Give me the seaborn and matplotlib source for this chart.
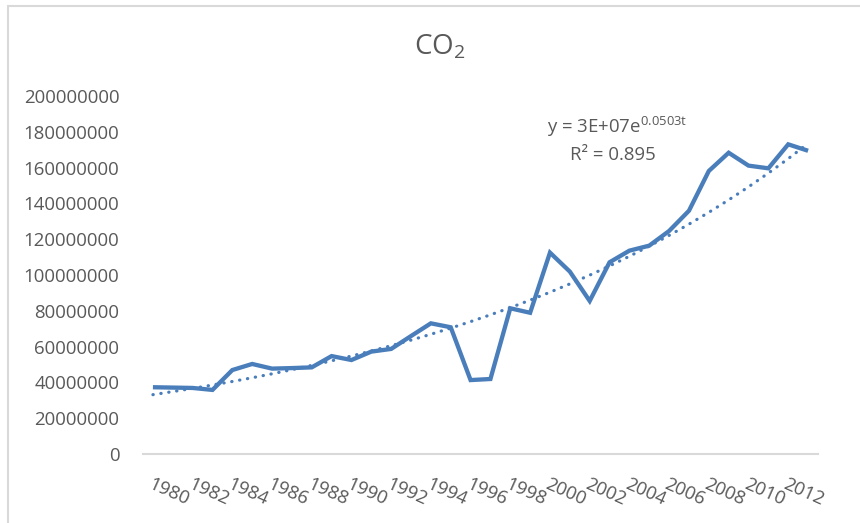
import numpy as np
import pandas as pd
import matplotlib
matplotlib.use("Agg")
import matplotlib.pyplot as plt
from matplotlib.patches import Rectangle
import seaborn as sns

# Annual CO2 emissions, 1980-2013
years = list(range(1980, 2014))
co2 = [37.3e6, 37.1e6, 36.9e6, 35.8e6, 46.9e6, 50.3e6, 47.7e6, 48.0e6, 48.4e6,
       54.7e6, 52.5e6, 57.2e6, 58.7e6, 65.9e6, 73.0e6, 70.8e6, 41.3e6, 41.9e6,
       81.4e6, 78.9e6, 112.5e6, 101.9e6, 85.5e6, 107.1e6, 113.6e6, 116.4e6,
       124.6e6, 135.9e6, 158.1e6, 168.3e6, 161.1e6, 159.6e6, 173.0e6, 169.4e6]
tick_years = [str(y) for y in range(1980, 2013, 2)]
y_ticks = list(range(0, 200000001, 20000000))
equation_text = "y = 3E+07e$^{\\mathregular{0.0503t}}$"
r2_text = "R² = 0.895"

LINE = "#4A7EBB"
TEXT = "#595959"

sns.set_theme(style="white")
plt.rcParams["font.family"] = ["Open Sans", "DejaVu Sans"]
plt.rcParams["mathtext.fontset"] = "custom"
plt.rcParams["mathtext.rm"] = "Open Sans"
plt.rcParams["mathtext.it"] = "Open Sans:italic"

df = pd.DataFrame({"idx": np.arange(len(years)), "year": years, "co2": co2})

# Exponential trendline: least squares on ln(y) against t = 1..n
t = df["idx"].to_numpy() + 1
b, ln_a = np.polyfit(t, np.log(df["co2"].to_numpy()), 1)
df["trend"] = np.exp(ln_a) * np.exp(b * t)

W, H = 860, 523
fig = plt.figure(figsize=(W / 100, H / 100), dpi=100)
ax = fig.add_axes([143 / W, (H - 454) / H, 675 / W, 358 / H])

sns.lineplot(data=df, x="idx", y="co2", ax=ax, color=LINE, linewidth=3.1,
             solid_joinstyle="miter", solid_capstyle="butt")
trend_line, = ax.plot(df["idx"], df["trend"], color=LINE, linewidth=2.3,
                      dash_capstyle="round")
trend_line.set_dashes((0.1, 2.4))

ax.set_xlim(-0.5, len(years) - 0.5)
ax.set_ylim(0, 200000000)
ax.set_yticks(y_ticks)
ax.set_yticklabels([str(v) for v in y_ticks])
ax.set_xticks(np.arange(0, len(years) - 1, 2))
ax.set_xticklabels(tick_years, rotation=-24, ha="left", va="top",
                   rotation_mode="anchor")
ax.set_xlabel("")
ax.set_ylabel("")

for side in ["top", "right", "left"]:
    ax.spines[side].set_visible(False)
ax.spines["bottom"].set_color("#D9D9D9")
ax.spines["bottom"].set_linewidth(1.5)

ax.tick_params(axis="y", length=0, pad=17, labelsize=13.4, labelcolor=TEXT)
ax.tick_params(axis="x", length=0, pad=15, labelsize=13.4, labelcolor=TEXT)

fig.text(440 / W, 1 - 47 / H, "CO$_{\\mathregular{2}}$", ha="center",
         va="center", fontsize=20, color=TEXT)

ax.text(617 / W, 1 - 127 / H, equation_text, transform=fig.transFigure,
        ha="center", va="center", fontsize=13.4, color=TEXT)
ax.text(613 / W, 1 - 155 / H, r2_text, transform=fig.transFigure,
        ha="center", va="center", fontsize=13.4, color=TEXT)

# Chart-area border
fig.patches.append(Rectangle((8 / W, -0.05), 1.2, 1 - 6 / H + 0.05,
                             transform=fig.transFigure, fill=False,
                             edgecolor="#D9D9D9", linewidth=1.5))

fig.savefig("out.png", dpi=100)
